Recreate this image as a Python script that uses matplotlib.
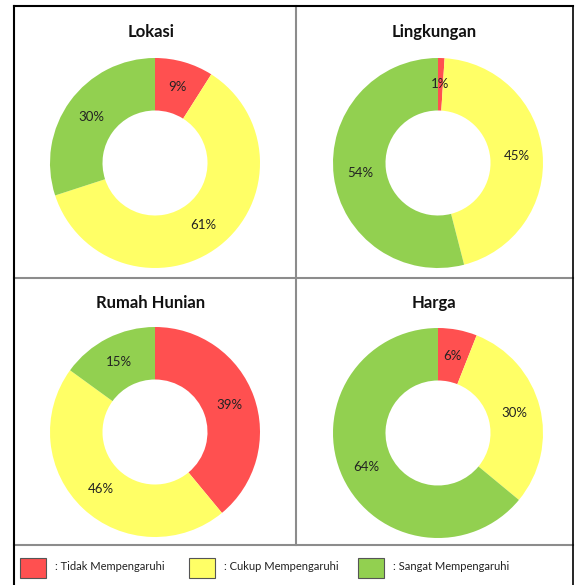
import matplotlib
matplotlib.use("Agg")
from matplotlib import pyplot as plt
from matplotlib.lines import Line2D
from matplotlib.patches import Rectangle

# data
titles = ["Lokasi", "Lingkungan", "Rumah Hunian", "Harga"]
categories = ["Tidak Mempengaruhi", "Cukup Mempengaruhi", "Sangat Mempengaruhi"]
lokasi = [9, 61, 30]
lingkungan = [1, 45, 54]
rumah_hunian = [39, 46, 15]
harga = [6, 30, 64]
colors = ["#FF5050", "#FFFF66", "#92D050"]

W, H = 576, 585
plt.rcParams["font.family"] = ["Lato", "DejaVu Sans"]
fig = plt.figure(figsize=(W / 100, H / 100), dpi=100)


def fx(x):
    return x / W


def fy(y):
    return 1 - y / H


def hline(y, x0, x1, color, lw):
    fig.add_artist(Line2D([fx(x0), fx(x1)], [fy(y), fy(y)], color=color, lw=lw,
                          transform=fig.transFigure))


def vline(x, y0, y1, color, lw):
    fig.add_artist(Line2D([fx(x), fx(x)], [fy(y0), fy(y1)], color=color, lw=lw,
                          transform=fig.transFigure))


# pies: centre (px), title y (px)
panels = [
    (lokasi, 155, 163, 32),
    (lingkungan, 438, 163, 32),
    (rumah_hunian, 155, 432, 303),
    (harga, 438, 433, 303),
]
R = 105
for title, (vals, cx, cy, ty) in zip(titles, panels):
    ax = fig.add_axes([fx(cx - R), fy(cy + R), 2 * R / W, 2 * R / H])
    ax.pie(vals, colors=colors, startangle=90, counterclock=False, radius=1,
           wedgeprops=dict(width=0.5, linewidth=0),
           autopct=lambda p: f"{p:.0f}%", pctdistance=0.75,
           textprops=dict(fontsize=9.5, color="#222222"))
    ax.set_xlim(-1, 1)
    ax.set_ylim(-1, 1)
    ax.set_aspect("equal")
    ax.set_axis_off()
    fig.text(fx(cx - 4), fy(ty), title, ha="center", va="center",
             fontsize=12, fontweight="bold", color="#111111")

# grid lines
vline(296, 6, 545, "#8c8c8c", 1.5)
hline(278, 14, 573, "#8c8c8c", 1.5)
hline(545, 14, 573, "#8c8c8c", 1.5)
# outer border
vline(14, 6, 590, "black", 1.5)
vline(573, 6, 590, "black", 1.2)
hline(6, 14, 573, "black", 1.5)

# legend
legend_x = [20, 189, 358]
for x, col, name in zip(legend_x, colors, categories):
    fig.add_artist(Rectangle((fx(x), fy(578)), 26 / W, 20 / H, facecolor=col,
                             edgecolor="#555555", lw=0.8, transform=fig.transFigure))
    fig.text(fx(x + 35), fy(567), ": " + name, ha="left", va="center",
             fontsize=8, color="#222222")

fig.savefig("out.png", dpi=100)
